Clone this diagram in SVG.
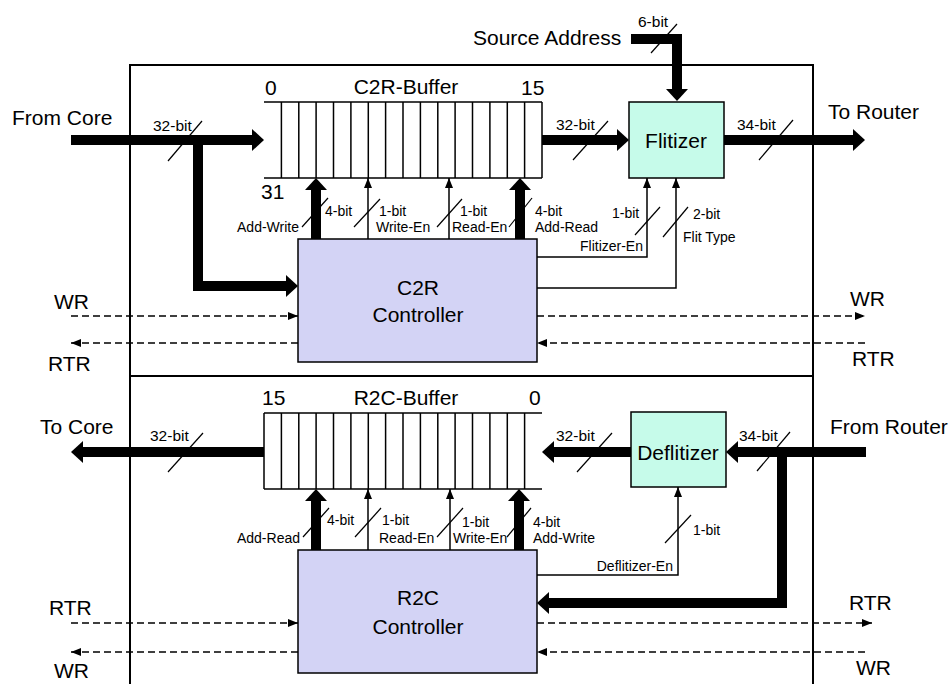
<svg xmlns="http://www.w3.org/2000/svg" width="949" height="684" viewBox="0 0 949 684">
<style>
text{font-family:"Liberation Sans",Arial,sans-serif;fill:#000}
.big{font-size:21px}
.sm{font-size:14px}
.bus{font-size:15.5px}
.mid{text-anchor:middle}
.end{text-anchor:end}
.frame{fill:none;stroke:#000;stroke-width:2}
.buf{fill:none;stroke:#000;stroke-width:1.5}
.ctrl{fill:#D3D3F5;stroke:#000;stroke-width:1.5}
.flit{fill:#C6FBEA;stroke:#000;stroke-width:1.5}
.thick{fill:none;stroke:#000;stroke-width:10;stroke-linejoin:miter;marker-end:url(#bh)}
.thin{fill:none;stroke:#000;stroke-width:1.5;marker-end:url(#ah)}
.dash{fill:none;stroke:#000;stroke-width:1.5;stroke-dasharray:7,4;marker-end:url(#ah)}
.slash{stroke:#000;stroke-width:1.2}
</style>
<defs>
<marker id="ah" viewBox="0 0 10 8" refX="10" refY="4" markerWidth="10" markerHeight="8" markerUnits="userSpaceOnUse" orient="auto"><path d="M0,0 L10,4 L0,8 z" fill="#000"/></marker>
<marker id="bh" viewBox="0 0 12 22" refX="0" refY="11" markerWidth="12" markerHeight="22" markerUnits="userSpaceOnUse" orient="auto"><path d="M0,0 L12,11 L0,22 z" fill="#000"/></marker>
</defs>
<rect width="949" height="684" fill="#fff"/>
<g id="frame">
<path class="frame" d="M130,684 V65 H813 V684"/>
<line class="frame" x1="130" y1="376" x2="813" y2="376"/>
</g>
<g id="c2r-buffer">
<path class="buf" d="M264,102 H542 M264,178 H542 M281.4,102 V178 M298.8,102 V178 M316.1,102 V178 M333.5,102 V178 M350.9,102 V178 M368.3,102 V178 M385.6,102 V178 M403,102 V178 M420.4,102 V178 M437.8,102 V178 M455.1,102 V178 M472.5,102 V178 M489.9,102 V178 M507.3,102 V178 M524.6,102 V178 M542,102 V178"/>
<text class="big" x="265" y="95">0</text>
<text class="big mid" x="406" y="94">C2R-Buffer</text>
<text class="big" x="521" y="95">15</text>
<text class="big" x="261" y="199">31</text>
</g>
<g id="flitizer">
<rect class="flit" x="629" y="102" width="95" height="76"/>
<text class="big mid" x="676" y="148">Flitizer</text>
</g>
<g id="c2r-controller">
<rect class="ctrl" x="298" y="239" width="239" height="123"/>
<text class="big mid" x="418" y="295">C2R</text>
<text class="big mid" x="418" y="322">Controller</text>
</g>
<g id="r2c-buffer">
<path class="buf" d="M264,413 H542 M264,489 H542 M264,413 V489 M281.4,413 V489 M298.8,413 V489 M316.1,413 V489 M333.5,413 V489 M350.9,413 V489 M368.3,413 V489 M385.6,413 V489 M403,413 V489 M420.4,413 V489 M437.8,413 V489 M455.1,413 V489 M472.5,413 V489 M489.9,413 V489 M507.3,413 V489 M524.6,413 V489"/>
<text class="big" x="262" y="405">15</text>
<text class="big mid" x="406" y="405">R2C-Buffer</text>
<text class="big" x="529" y="405">0</text>
</g>
<g id="deflitizer">
<rect class="flit" x="631" y="412" width="95" height="75"/>
<text class="big mid" x="678" y="460">Deflitizer</text>
</g>
<g id="r2c-controller">
<rect class="ctrl" x="298" y="550" width="239" height="123"/>
<text class="big mid" x="418" y="605">R2C</text>
<text class="big mid" x="418" y="634">Controller</text>
</g>
<g id="connectors">
<path class="thick" d="M71,140 H252"/>
<path class="thick" d="M198,140 V286 H286"/>
<path class="thick" d="M542,140 H617"/>
<path class="thick" d="M631,39 H677 V89"/>
<path class="thick" d="M724,140 H853"/>
<path class="thick" d="M316,239 V190"/>
<path class="thick" d="M520,239 V190"/>
<path class="thin" d="M368,239 V178"/>
<path class="thin" d="M449,239 V178"/>
<path class="thin" d="M537,257 H647 V178"/>
<path class="thin" d="M537,288 H676 V178"/>
<path class="dash" d="M71,316 H298"/>
<path class="dash" d="M298,343 H71"/>
<path class="dash" d="M537,316 H865"/>
<path class="dash" d="M865,343 H537"/>
<path class="thick" d="M264,452 H83"/>
<path class="thick" d="M631,452 H554"/>
<path class="thick" d="M866,452 H738"/>
<path class="thick" d="M782,452 V603 H549"/>
<path class="thick" d="M316,550 V501"/>
<path class="thick" d="M519,550 V501"/>
<path class="thin" d="M368,550 V489"/>
<path class="thin" d="M450,550 V489"/>
<path class="thin" d="M537,575 H678 V487"/>
<path class="dash" d="M71,623 H298"/>
<path class="dash" d="M298,652 H71"/>
<path class="dash" d="M537,623 H872"/>
<path class="dash" d="M865,652 H537"/>
<g id="slashes">
<line class="slash" x1="168" y1="161" x2="202" y2="121"/>
<line class="slash" x1="573" y1="160" x2="608" y2="121"/>
<line class="slash" x1="759" y1="160" x2="793" y2="120"/>
<line class="slash" x1="651" y1="53" x2="677" y2="24"/>
<line class="slash" x1="302" y1="227" x2="328" y2="198"/>
<line class="slash" x1="354" y1="227" x2="380" y2="199"/>
<line class="slash" x1="437" y1="227" x2="462" y2="199"/>
<line class="slash" x1="509" y1="227" x2="532" y2="198"/>
<line class="slash" x1="635" y1="235" x2="660" y2="207"/>
<line class="slash" x1="663" y1="237" x2="688" y2="207"/>
<line class="slash" x1="168" y1="472" x2="203" y2="433"/>
<line class="slash" x1="577" y1="472" x2="612" y2="433"/>
<line class="slash" x1="757" y1="471" x2="790" y2="432"/>
<line class="slash" x1="303" y1="537" x2="329" y2="508"/>
<line class="slash" x1="355" y1="537" x2="381" y2="508"/>
<line class="slash" x1="437" y1="537" x2="463" y2="508"/>
<line class="slash" x1="507" y1="537" x2="531" y2="508"/>
<line class="slash" x1="665" y1="543" x2="691" y2="515"/>
</g>
</g>
<g id="labels">
<text class="big" x="12" y="125">From Core</text>
<text class="big" x="828" y="119">To Router</text>
<text class="big" x="473" y="45">Source Address</text>
<text class="bus" x="638" y="27">6-bit</text>
<text class="bus" x="153" y="131">32-bit</text>
<text class="bus" x="556" y="130">32-bit</text>
<text class="bus" x="737" y="130">34-bit</text>
<text class="sm end" x="299" y="232">Add-Write</text>
<text class="sm" x="325" y="216">4-bit</text>
<text class="sm" x="379" y="216">1-bit</text>
<text class="sm" x="376" y="232">Write-En</text>
<text class="sm" x="460" y="216">1-bit</text>
<text class="sm" x="452" y="232">Read-En</text>
<text class="sm" x="535" y="216">4-bit</text>
<text class="sm" x="535" y="232">Add-Read</text>
<text class="sm" x="612" y="218">1-bit</text>
<text class="sm end" x="643" y="251">Flitizer-En</text>
<text class="sm" x="693" y="219">2-bit</text>
<text class="sm" x="683" y="242">Flit Type</text>
<text class="big" x="54" y="309">WR</text>
<text class="big" x="48" y="371">RTR</text>
<text class="big" x="850" y="306">WR</text>
<text class="big" x="852" y="366">RTR</text>
<text class="big" x="40" y="434">To Core</text>
<text class="big" x="830" y="434">From Router</text>
<text class="bus" x="150" y="441">32-bit</text>
<text class="bus" x="556" y="441">32-bit</text>
<text class="bus" x="739" y="441">34-bit</text>
<text class="sm" x="327" y="525">4-bit</text>
<text class="sm end" x="300" y="543">Add-Read</text>
<text class="sm" x="382" y="525">1-bit</text>
<text class="sm" x="379" y="543">Read-En</text>
<text class="sm" x="462" y="527">1-bit</text>
<text class="sm" x="453" y="543">Write-En</text>
<text class="sm" x="533" y="527">4-bit</text>
<text class="sm" x="533" y="543">Add-Write</text>
<text class="sm end" x="673" y="571">Deflitizer-En</text>
<text class="sm" x="693" y="535">1-bit</text>
<text class="big" x="49" y="615">RTR</text>
<text class="big" x="54" y="678">WR</text>
<text class="big" x="849" y="610">RTR</text>
<text class="big" x="856" y="675">WR</text>
</g>
</svg>
